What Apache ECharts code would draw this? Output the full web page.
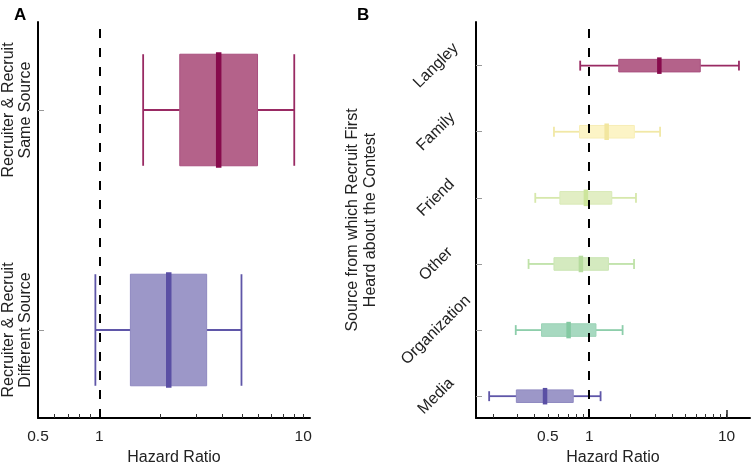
<!DOCTYPE html>
<html><head><meta charset="utf-8">
<script src="https://cdn.jsdelivr.net/npm/echarts@6/dist/echarts.min.js"></script>
<style>html,body{margin:0;padding:0;background:#fff}#c{width:754px;height:471px}</style>
</head><body><div id="c"></div>
<script>
// ---------- Panel A data ----------
const catsA = ['Recruiter & Recruit\nDifferent Source', 'Recruiter & Recruit\nSame Source'];
// [whisker low, box low, median, box high, whisker high]
const valsA_different = [0.956, 1.42, 2.19, 3.36, 4.98];
const valsA_same      = [1.64, 2.48, 3.85, 5.97, 9.04];

// ---------- Panel B data (bottom to top) ----------
const catsB = ['Media', 'Organization', 'Other', 'Friend', 'Family', 'Langley'];
const valsB_media  = [0.187, 0.295, 0.477, 0.765, 1.21];
const valsB_org    = [0.292, 0.45, 0.708, 1.12, 1.75];
const valsB_other  = [0.362, 0.554, 0.87, 1.38, 2.12];
const valsB_friend = [0.405, 0.612, 0.946, 1.46, 2.19];
const valsB_family = [0.554, 0.85, 1.34, 2.13, 3.28];
const valsB_langley= [0.86, 1.64, 3.24, 6.43, 12.3];

const xTicksA = [0.6,0.7,0.8,0.9,1,2,3,4,5,6,7,8,9,10];
const xTicksB = [0.2,0.3,0.4,0.5,0.6,0.7,0.8,0.9,1,2,3,4,5,6,7,8,9,10];
const xLabelsA = [0.5, 1, 10];
const xLabelsB = [0.5, 1, 10];
const refValue = 1;

// ---------- styles ----------
const stylesA = [
  {fill:'#9c97c8', stroke:'#8f89c1', whisker:'#5f56a8', median:'#5a4fa4'},
  {fill:'#b4628a', stroke:'#a9507f', whisker:'#992a63', median:'#870a4c'}
];
const stylesB = [
  {fill:'#9c97c8', stroke:'#8f89c1', whisker:'#5f56a8', median:'#5a4fa4'},
  {fill:'#a7d9c0', stroke:'#9bd3b6', whisker:'#8dceab', median:'#84c9a2'},
  {fill:'#d4eabf', stroke:'#cbe6b4', whisker:'#bfe2a8', median:'#b6dc9e'},
  {fill:'#e2eec4', stroke:'#d9eab7', whisker:'#d6e8ab', median:'#cde59c'},
  {fill:'#fcf4c6', stroke:'#f8eeb6', whisker:'#f1e8a6', median:'#f2e69f'},
  {fill:'#b4628a', stroke:'#a9507f', whisker:'#992a63', median:'#870a4c'}
];

const FONT = 'Liberation Sans, Arial, sans-serif';

const dataA = [valsA_different, valsA_same].map((v, i) => [i + 1, ...v]);
const dataB = [valsB_media, valsB_org, valsB_other, valsB_friend, valsB_family, valsB_langley].map((v, i) => [i + 1, ...v]);

function makeRender(styles, boxH, capH, medH, lw, medW) {
  return function (params, api) {
    const y = api.value(0);
    const s = styles[params.dataIndex];
    const pWl = api.coord([api.value(1), y]);
    const pBl = api.coord([api.value(2), y]);
    const pMd = api.coord([api.value(3), y]);
    const pBh = api.coord([api.value(4), y]);
    const pWh = api.coord([api.value(5), y]);
    const unit = api.size([0, 1])[1];
    const bh = boxH * unit, ch = capH * unit, mh = medH * unit;
    const cy = pMd[1];
    return {
      type: 'group',
      children: [
        {type:'line', shape:{x1:pWl[0], y1:cy, x2:pBl[0], y2:cy}, style:{stroke:s.whisker, lineWidth:lw}},
        {type:'line', shape:{x1:pBh[0], y1:cy, x2:pWh[0], y2:cy}, style:{stroke:s.whisker, lineWidth:lw}},
        {type:'line', shape:{x1:pWl[0], y1:cy - ch/2, x2:pWl[0], y2:cy + ch/2}, style:{stroke:s.whisker, lineWidth:lw}},
        {type:'line', shape:{x1:pWh[0], y1:cy - ch/2, x2:pWh[0], y2:cy + ch/2}, style:{stroke:s.whisker, lineWidth:lw}},
        {type:'rect', shape:{x:pBl[0], y:cy - bh/2, width:pBh[0]-pBl[0], height:bh}, style:{fill:s.fill, stroke:s.stroke, lineWidth:1}},
        {type:'line', shape:{x1:pMd[0], y1:cy - mh/2, x2:pMd[0], y2:cy + mh/2}, style:{stroke:s.median, lineWidth:medW}}
      ]
    };
  };
}

const refLine = {
  silent: true, symbol: ['none','none'],
  label: {show:false},
  lineStyle: {color:'#000', width:2, type:[9,10]},
  data: [{xAxis: refValue}]
};

const chart = echarts.init(document.getElementById('c'), null, {renderer:'canvas'});
chart.setOption({
  animation: false,
  textStyle: {fontFamily: FONT},
  title: [
    {text:'A', left:9, top:2, textStyle:{fontFamily:FONT, fontSize:17, fontWeight:'bold', color:'#000'}},
    {text:'B', left:352, top:2, textStyle:{fontFamily:FONT, fontSize:17, fontWeight:'bold', color:'#000'}}
  ],
  grid: [
    {left:37, right:444, top:22, bottom:51},
    {left:476, right:4, top:22, bottom:51}
  ],
  xAxis: [
    {
      gridIndex:0, type:'log', logBase:10, min:0.5, max:10.8, position:'bottom',
      name:'Hazard Ratio', nameLocation:'middle', nameGap:32,
      nameTextStyle:{fontFamily:FONT, fontSize:16, color:'#222'},
      axisLine:{lineStyle:{color:'#000', width:2}},
      axisTick:{show:true, inside:true, length:4, customValues:xTicksA, lineStyle:{color:'#333', width:1}},
      axisLabel:{customValues:xLabelsA, fontFamily:FONT, fontSize:15.5, color:'#222', margin:11, formatter:v=>String(v)},
      splitLine:{show:false}
    },
    {
      gridIndex:0, type:'log', logBase:10, min:0.5, max:10.8, position:'bottom',
      axisLine:{show:false},
      axisTick:{show:true, inside:true, length:9, customValues:[refValue], lineStyle:{color:'#222', width:1.5}},
      axisLabel:{show:false}, splitLine:{show:false}
    },
    {
      gridIndex:1, type:'log', logBase:10, min:0.15, max:14.8, position:'bottom',
      name:'Hazard Ratio', nameLocation:'middle', nameGap:32,
      nameTextStyle:{fontFamily:FONT, fontSize:16, color:'#222'},
      axisLine:{lineStyle:{color:'#000', width:2}},
      axisTick:{show:true, inside:true, length:4, customValues:xTicksB, lineStyle:{color:'#333', width:1}},
      axisLabel:{customValues:xLabelsB, fontFamily:FONT, fontSize:15.5, color:'#222', margin:11, formatter:v=>String(v)},
      splitLine:{show:false}
    },
    {
      gridIndex:1, type:'log', logBase:10, min:0.15, max:14.8, position:'bottom',
      axisLine:{show:false},
      axisTick:{show:true, inside:true, length:8, customValues:[refValue, 10], lineStyle:{color:'#222', width:1.5}},
      axisLabel:{show:false}, splitLine:{show:false}
    }
  ],
  yAxis: [
    {
      gridIndex:0, type:'value', min:0.6, max:2.4,
      axisLine:{show:true, lineStyle:{color:'#000', width:2}},
      axisTick:{show:true, inside:true, length:6, customValues:[1,2], lineStyle:{color:'#999'}},
      axisLabel:{customValues:[1,2], formatter:v=>catsA[Math.round(v)-1], rotate:90, fontFamily:FONT, fontSize:16, lineHeight:17, color:'#222', margin:4},
      splitLine:{show:false}
    },
    {
      gridIndex:1, type:'value', min:0.67, max:6.66,
      name:'Source from which Recruit First\nHeard about the Contest', nameLocation:'middle', nameRotate:90, nameGap:96,
      nameTextStyle:{fontFamily:FONT, fontSize:16, lineHeight:18, color:'#222'},
      axisLine:{show:true, lineStyle:{color:'#000', width:2}},
      axisTick:{show:true, inside:true, length:6, customValues:[1,2,3,4,5,6], lineStyle:{color:'#999'}},
      axisLabel:{customValues:[1,2,3,4,5,6], formatter:v=>catsB[Math.round(v)-1], rotate:45, align:'center', verticalAlign:'middle', fontFamily:FONT, fontSize:16, color:'#222', margin:40},
      splitLine:{show:false}
    }
  ],
  series: [
    {
      type:'custom', xAxisIndex:0, yAxisIndex:0, data:dataA,
      encode:{x:[1,2,3,4,5], y:0},
      renderItem: makeRender(stylesA, 0.507, 0.507, 0.525, 1.8, 5.5),
      markLine: refLine, z:2
    },
    {
      type:'custom', xAxisIndex:2, yAxisIndex:1, data:dataB,
      encode:{x:[1,2,3,4,5], y:0},
      renderItem: makeRender(stylesB, 0.19, 0.15, 0.25, 1.8, 4.5),
      markLine: refLine, z:2
    }
  ]
});
</script></body></html>
